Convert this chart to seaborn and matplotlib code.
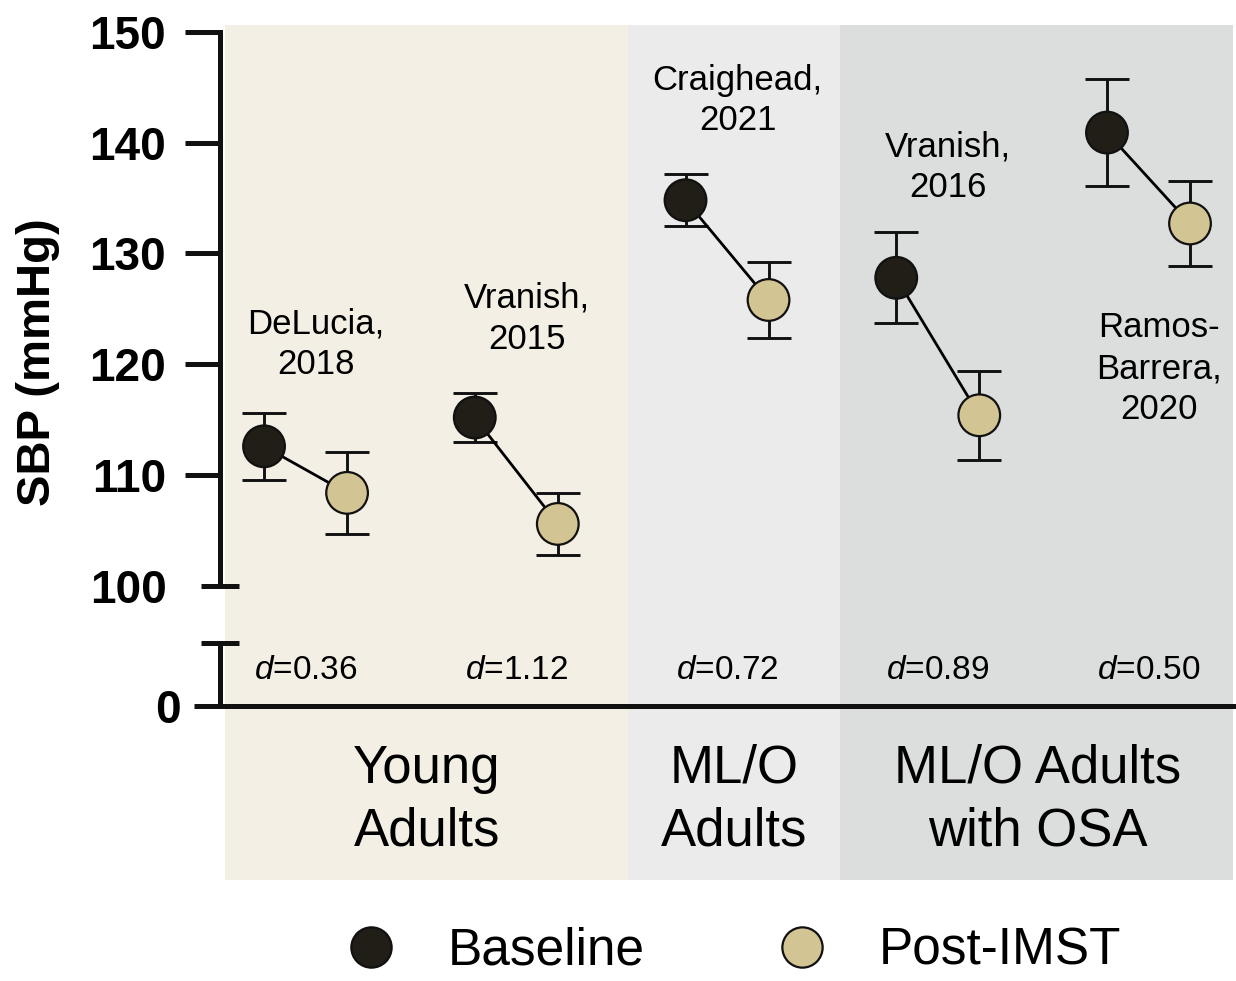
import numpy as np
import pandas as pd
import seaborn as sns
import matplotlib.pyplot as plt
from matplotlib.lines import Line2D
from matplotlib.transforms import blended_transform_factory

# ---------------------------------------------------- data ----------------------------------------------------
studies = ['DeLucia,\n2018', 'Vranish,\n2015', 'Craighead,\n2021', 'Vranish,\n2016', 'Ramos-\nBarrera,\n2020']
baseline_mean = [112.6, 115.2, 134.8, 127.8, 140.9]
baseline_err = [3.0, 2.25, 2.35, 4.1, 4.85]
post_mean = [108.4, 105.6, 125.8, 115.4, 132.7]
post_err = [3.7, 2.8, 3.45, 4.0, 3.8]
effect_d = ['0.36', '1.12', '0.72', '0.89', '0.50']
groups = ['Young\nAdults', 'ML/O\nAdults', 'ML/O Adults\nwith OSA']
group_edges = [-0.38, 1.53, 2.535, 4.41]
label_y = [121.8, 124.1, 143.8, 137.8, 119.6]

times = ['Baseline', 'Post-IMST']
colors = {'Baseline': '#211e18', 'Post-IMST': '#d3c493'}
bg_colors = ['#f3efe4', '#ebebeb', '#dcdddd']
ink = '#111111'

# long table
rows = []
for i, s in enumerate(studies):
    rows.append({'study': s, 'time': 'Baseline', 'x': i - 0.197, 'sbp': baseline_mean[i], 'err': baseline_err[i]})
    rows.append({'study': s, 'time': 'Post-IMST', 'x': i + 0.197, 'sbp': post_mean[i], 'err': post_err[i]})
df = pd.DataFrame(rows)

# ---------------------------------------------------- style ----------------------------------------------------
sns.set_style('ticks', rc={'text.color': 'black', 'axes.labelcolor': 'black',
                           'xtick.color': 'black', 'ytick.color': 'black'})
plt.rcParams['font.family'] = ['Liberation Sans', 'DejaVu Sans']
plt.rcParams['mathtext.fontset'] = 'custom'
plt.rcParams['mathtext.rm'] = 'Liberation Sans'
plt.rcParams['mathtext.it'] = 'Liberation Sans:italic'

W, H = 1236, 981
fig = plt.figure(figsize=(W / 100, H / 100), dpi=100)
xlim = (-0.406, 4.401)


def px_axes(left, top, right, bottom):
    return fig.add_axes([left / W, 1 - bottom / H, (right - left) / W, (bottom - top) / H])


# background bands
bg = px_axes(220, 25, 1233, 880)
bg.set_xlim(xlim)
bg.set_ylim(0, 1)
for k in range(3):
    bg.axvspan(group_edges[k], group_edges[k + 1], color=bg_colors[k], lw=0)
bg.axis('off')
bg.set_zorder(0)

# top axis (100-150)
ax = px_axes(220, 31.7, 1233, 586)
ax.set_zorder(2)
ax.patch.set_visible(False)

for t in times:
    sub = df[df.time == t]
    ax.errorbar(sub.x, sub.sbp, yerr=sub.err, fmt='none', ecolor=ink, elinewidth=2.1,
                capsize=15.5, capthick=2.1, zorder=2)
sns.lineplot(data=df, x='x', y='sbp', units='study', estimator=None, color='black',
             lw=2.0, ax=ax, zorder=3, legend=False)
sns.scatterplot(data=df, x='x', y='sbp', hue='time', palette=colors, s=900,
                edgecolor=ink, linewidth=1.6, ax=ax, zorder=4, legend=False)

ax.set_xlim(xlim)
ax.set_ylim(100, 150)
ax.set_yticks([110, 120, 130, 140, 150])
ax.set_yticks([100], labels=['100'], minor=True)
ax.tick_params(axis='y', which='major', length=25, width=3.6, pad=14, labelsize=33, color=ink)
ax.tick_params(axis='y', which='minor', length=27, width=3.6, direction='inout', pad=25,
               labelsize=33, color=ink)
for lab in ax.get_yticklabels(which='both'):
    lab.set_fontweight('bold')
ax.set_xticks([])
ax.set_xlabel('')
ax.set_ylabel('')
for side in ['top', 'right', 'bottom']:
    ax.spines[side].set_visible(False)
ax.spines['left'].set_linewidth(3.6)
ax.spines['left'].set_color(ink)

for i, s in enumerate(studies):
    ax.text(i + 0.05, label_y[i], s, ha='center', va='center', fontsize=25, linespacing=1.3)

# bottom axis (0 with effect sizes)
ax0 = px_axes(220, 643, 1233, 706)
ax0.set_zorder(2)
ax0.patch.set_visible(False)
ax0.set_xlim(xlim)
ax0.set_ylim(0, 1)
ax0.set_yticks([0], labels=['0'])
ax0.set_yticks([1], labels=[''], minor=True)
ax0.tick_params(axis='y', which='major', length=19, width=3.6, pad=9, labelsize=33, color=ink)
ax0.tick_params(axis='y', which='minor', length=27, width=3.6, direction='inout', color=ink)
for lab in ax0.get_yticklabels():
    lab.set_fontweight('bold')
ax0.set_xticks([])
for side in ['top', 'right']:
    ax0.spines[side].set_visible(False)
for side in ['left', 'bottom']:
    ax0.spines[side].set_linewidth(3.6)
    ax0.spines[side].set_color(ink)
for i, d in enumerate(effect_d):
    ax0.text(i, 0.56, r'$\mathit{d}$=' + d, ha='center', va='center', fontsize=24)

# group labels
trans = blended_transform_factory(ax.transData, fig.transFigure)
for k, g in enumerate(groups):
    xc = (max(group_edges[k], -0.38) + group_edges[k + 1]) / 2
    ax.text(xc, 1 - 800 / H, g, transform=trans, ha='center', va='center', fontsize=38,
            linespacing=1.32, clip_on=False)

fig.text(38 / W, 1 - 362 / H, 'SBP (mmHg)', rotation=90, ha='center', va='center',
         fontsize=34, fontweight='bold')

# legend
handles = [Line2D([], [], ls='none', marker='o', ms=29, markerfacecolor=colors[t],
                  markeredgecolor=ink, markeredgewidth=1.6, label=t) for t in times]
fig.legend(handles=handles, loc='center', bbox_to_anchor=(733 / W, 1 - 951 / H), ncol=2,
           frameon=False, fontsize=37, handlelength=1.0, handletextpad=1.0, columnspacing=2.55,
           borderpad=0.1)

fig.savefig('out.png', dpi=100)
